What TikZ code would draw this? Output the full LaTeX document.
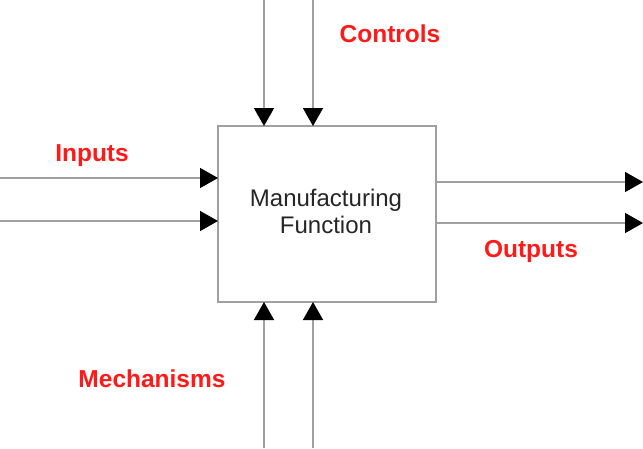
\documentclass[tikz,border=0pt]{standalone}
\usepackage{fontspec}
\setmainfont{Liberation Sans}
\usetikzlibrary{arrows.meta}
\definecolor{linegray}{HTML}{A0A0A0}
\definecolor{lblred}{HTML}{FF1A1A}
\tikzset{
  flow/.style={draw=linegray, line width=1.5pt, -{Triangle[width=20pt,length=18pt,black]}},
  lbl/.style={text=lblred, font=\fontsize{24.5}{27}\selectfont\bfseries, inner sep=0pt},
  funcbox/.style={draw=linegray, line width=1.6pt, fill=white, minimum width=218pt, minimum height=176pt, inner sep=0pt, outer sep=0pt},
  functext/.style={align=center, inner sep=0pt, font=\fontsize{24}{27}\selectfont, text=black!85}
}
\begin{document}
\begin{tikzpicture}[x=1pt,y=-1pt]
\useasboundingbox (0,0) rectangle (643,448);
\node[funcbox] (box) at (327,214) {};
\node[functext] (boxtext) at (326,211) {Manufacturing\\Function};
% controls
\coordinate (c1) at (264,0);
\coordinate (c2) at (313,0);
\draw[flow] (c1) -- (c1 |- box.north);
\draw[flow] (c2) -- (c2 |- box.north);
% inputs
\coordinate (i1) at (0,178);
\coordinate (i2) at (0,221);
\draw[flow] (i1) -- (i1 -| box.west);
\draw[flow] (i2) -- (i2 -| box.west);
% outputs
\coordinate (o1) at (643,182);
\coordinate (o2) at (643,223);
\draw[flow] (o1 -| box.east) -- (o1);
\draw[flow] (o2 -| box.east) -- (o2);
% mechanisms
\coordinate (m1) at (264,448);
\coordinate (m2) at (313,448);
\draw[flow] (m1) -- (m1 |- box.south);
\draw[flow] (m2) -- (m2 |- box.south);
% labels
\node[lbl] (lc) at (390,34) {Controls};
\node[lbl] (li) at (92,156) {Inputs};
\node[lbl] (lo) at (531,251) {Outputs};
\node[lbl] (lm) at (152,379) {Mechanisms};
\end{tikzpicture}
\end{document}
